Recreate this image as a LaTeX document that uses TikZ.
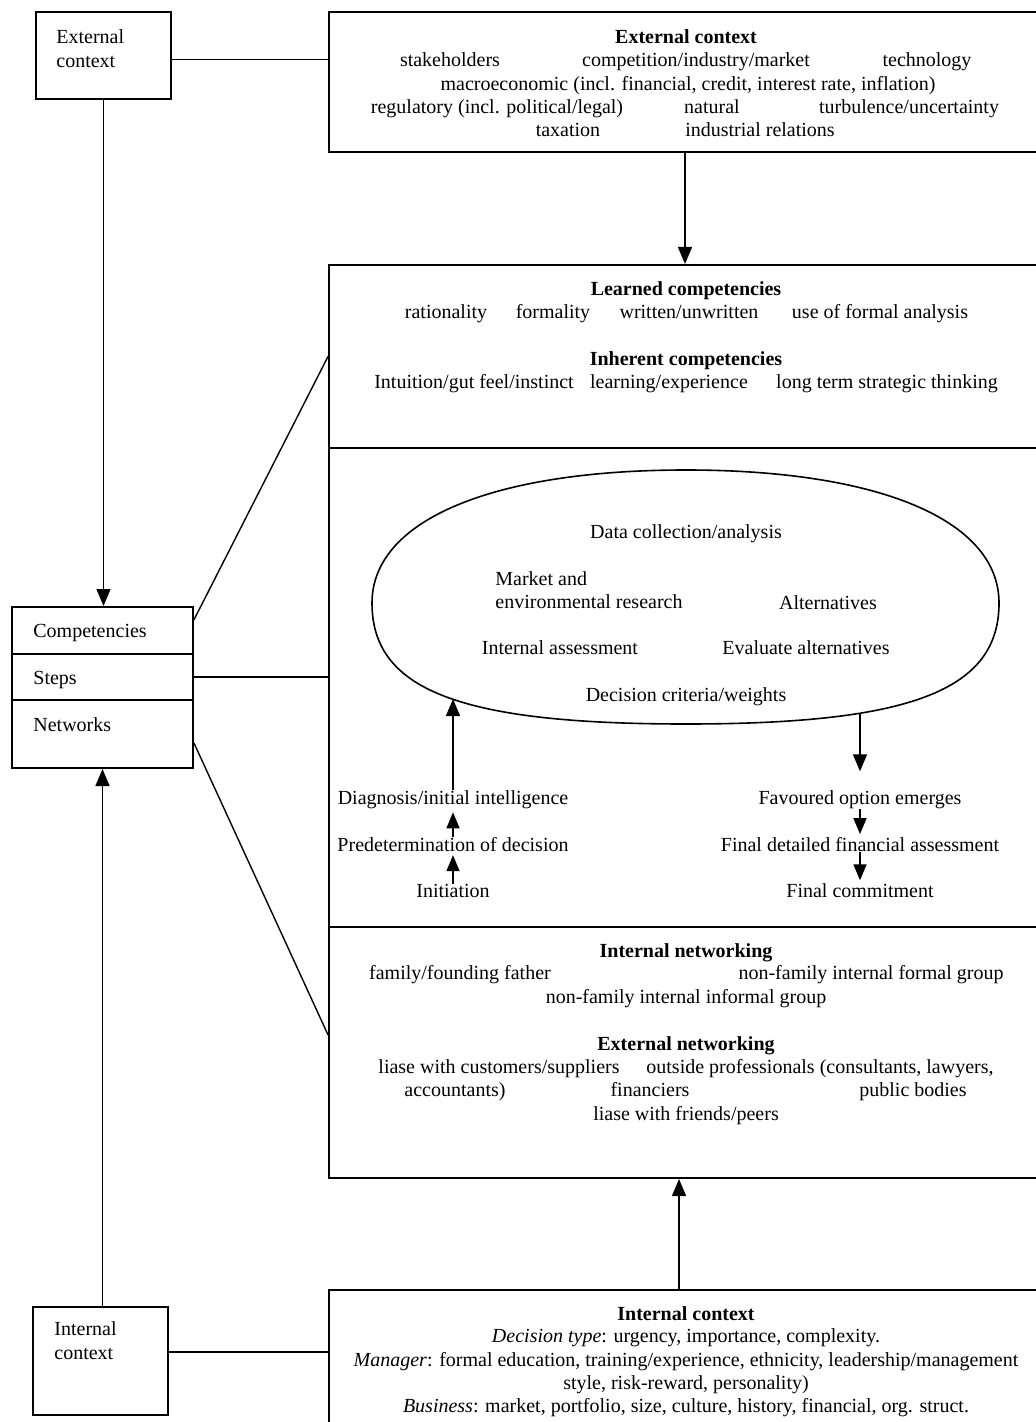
\documentclass[tikz,border=0pt]{standalone}
\usepackage{fontspec}
\setmainfont{Liberation Serif}
\usetikzlibrary{arrows.meta,fit,calc}
\begin{document}
\begin{tikzpicture}[x=0.5pt,y=-0.5pt,
  box/.style={draw,line width=1pt,inner sep=0pt},
  lbl/.style={anchor=mid,inner sep=0pt,yshift=-1.5pt,font=\fontsize{10}{12}\selectfont},
  lbll/.style={lbl,anchor=mid west},
  head/.style={lbl,font=\fontsize{10}{12}\selectfont\bfseries},
  conn/.style={line width=0.7pt},
  arr/.style={conn,-{Triangle[width=7pt,length=8.5pt]}},
  sarr/.style={conn,-{Triangle[width=6.5pt,length=8pt]},shorten >=1.5pt},
]
\clip (0,0) rectangle (1036,1422);
\fill[white] (0,0) rectangle (1036,1422);

% ---- frames ----
\node[box,fit={(36,12)(171,99)}] (extS) {};
\node[box,fit={(329,12)(1050,152)}] (extB) {};
\node[box,fit={(329,265)(1050,448)}] (comp) {};
\node[box,fit={(329,448)(1050,927)}] (steps) {};
\node[box,fit={(329,927)(1050,1178)}] (nets) {};
\node[box,fit={(329,1290)(1050,1440)}] (intB) {};
\node[box,fit={(33,1307)(168,1415)}] (intS) {};
\node[box,fit={(12,607)(193,654)}] (rowC) {};
\node[box,fit={(12,654)(193,700)}] (rowS) {};
\node[box,fit={(12,700)(193,768)}] (rowN) {};

% ---- small context boxes and the three-part summary ----
\node[lbll] (extS1) at (56,36) {External};
\node[lbll] (extS2) at (56,60) {context};
\node[lbll] (intS1) at (54,1328) {Internal};
\node[lbll] (intS2) at (54,1352) {context};
\node[lbll] (tC) at (33,630) {Competencies};
\node[lbll] (tS) at (33,677) {Steps};
\node[lbll] (tN) at (33,724) {Networks};

% ---- external context ----
\node[head] (eh) at (686,36) {External context};
\node[lbl] (e1) at (450,59) {stakeholders};
\node[lbl] (e2) at (696,59) {competition/industry/market};
\node[lbl] (e3) at (927,59) {technology};
\node[lbl] (e4) at (688,83) {macroeconomic (incl. financial, credit, interest rate, inflation)};
\node[lbl] (e5) at (497,106) {regulatory (incl. political/legal)};
\node[lbl] (e6) at (712,106) {natural};
\node[lbl] (e7) at (909,106) {turbulence/uncertainty};
\node[lbl] (e8) at (568,129) {taxation};
\node[lbl] (e9) at (760,129) {industrial relations};

% ---- competencies ----
\node[head] (ch1) at (686,288) {Learned competencies};
\node[lbl] (c1) at (446,311) {rationality};
\node[lbl] (c2) at (553,311) {formality};
\node[lbl] (c3) at (689,311) {written/unwritten};
\node[lbl] (c4) at (880,311) {use of formal analysis};
\node[head] (ch2) at (686,358) {Inherent competencies};
\node[lbl] (c5) at (474,381) {Intuition/gut feel/instinct};
\node[lbl] (c6) at (669,381) {learning/experience};
\node[lbl] (c7) at (887,381) {long term strategic thinking};

% ---- steps: the analysis cycle ----
\draw[line width=0.8pt]
  (372,603) .. controls (372,520.5) and (491.3,470) .. (686,470)
            .. controls (880.1,470) and (999,520.5) .. (999,603)
            .. controls (999,690.1) and (911.4,724) .. (686,724)
            .. controls (459.9,724) and (372,690.1) .. (372,603) -- cycle;
\coordinate (cycIn) at (453,699);
\coordinate (cycOut) at (860,713);
\node[lbl] (k1) at (686,531) {Data collection/analysis};
\node[lbll] (k2a) at (495,578) {Market and};
\node[lbll] (k2b) at (495,601) {environmental research};
\node[lbl] (k3) at (828,602) {Alternatives};
\node[lbl] (k4) at (560,647) {Internal assessment};
\node[lbl] (k5) at (806,647) {Evaluate alternatives};
\node[lbl] (k6) at (686,694) {Decision criteria/weights};

\node[lbl] (diag) at (453,797) {Diagnosis/initial intelligence};
\node[lbl] (pred) at (453,844) {Predetermination of decision};
\node[lbl] (init) at (453,890) {Initiation};
\node[lbl] (fav) at (860,797) {Favoured option emerges};
\node[lbl] (fin) at (860,844) {Final detailed financial assessment};
\node[lbl] (commit) at (860,890) {Final commitment};

\draw[arr] (diag.north) -- (cycIn);
\draw[arr,shorten >=9.5pt] (cycOut) -- (fav.north);
\draw[sarr] (init.north) -- (pred.south);
\draw[sarr] (pred.north) -- (diag.south);
\draw[sarr] (fav.south) -- (fin.north);
\draw[sarr] (fin.south) -- (commit.north);

% ---- networks ----
\node[head] (nh1) at (686,950) {Internal networking};
\node[lbl] (n1) at (460,972) {family/founding father};
\node[lbl] (n2) at (871,972) {non-family internal formal group};
\node[lbl] (n3) at (686,996) {non-family internal informal group};
\node[head] (nh2) at (686,1043) {External networking};
\node[lbl] (n4) at (499,1066) {liase with customers/suppliers};
\node[lbl] (n5) at (820,1066) {outside professionals (consultants, lawyers,};
\node[lbl] (n6) at (455,1089) {accountants)};
\node[lbl] (n7) at (650,1089) {financiers};
\node[lbl] (n8) at (913,1089) {public bodies};
\node[lbl] (n9) at (686,1113) {liase with friends/peers};

% ---- internal context ----
\node[head] (ih) at (686,1313) {Internal context};
\node[lbl] (i1) at (686,1335) {\textit{Decision type}: urgency, importance, complexity.};
\node[lbl] (i2) at (686,1359) {\textit{Manager}: formal education, training/experience, ethnicity, leadership/management};
\node[lbl] (i3) at (686,1382) {style, risk-reward, personality)};
\node[lbl] (i4) at (686,1405) {\textit{Business}: market, portfolio, size, culture, history, financial, org. struct.};

% ---- connectors ----
\draw[conn] ([yshift=-2pt]extS.east) -- ([yshift=-2pt]extS.east -| extB.west);
\draw[arr] ([xshift=-2.25pt]extB.south) -- ([xshift=-2.25pt]comp.north);
\draw[arr] (extS.south) -- (extS.south |- rowC.north);
\draw[arr] (intS.north -| rowN.south) -- (rowN.south);
\draw[conn] ([yshift=4.5pt]intS.east) -- ([yshift=4.5pt]intS.east -| intB.west);
\draw[arr] ([xshift=-5.25pt]intB.north) -- ([xshift=-5.25pt]nets.south);
\draw[conn] ($(rowC.north east)!0.28!(rowC.south east)$) -- (comp.west);
\draw[conn] (rowS.east) -- (rowS.east -| steps.west);
\draw[conn] ($(rowN.north east)!0.63!(rowN.south east)$) -- ($(nets.north west)!0.43!(nets.south west)$);
\end{tikzpicture}
\end{document}
